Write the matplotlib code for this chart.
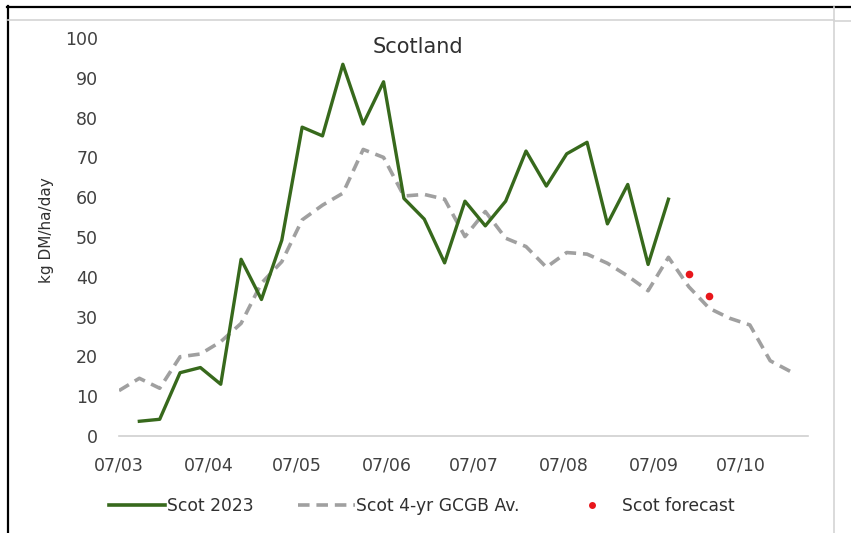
import datetime as dt
import matplotlib
matplotlib.use("Agg")
import matplotlib.pyplot as plt
import matplotlib.dates as mdates
from matplotlib.lines import Line2D

plt.rcParams['font.family'] = ['DejaVu Sans']

# weekly growth, kg DM/ha/day
START = dt.date(2023, 3, 7)
scot_2023 = [3.7, 4.2, 15.9, 17.2, 13.0, 44.4, 34.3, 49.2, 77.6, 75.4, 93.4,
             78.4, 89.0, 59.7, 54.5, 43.5, 59.0, 52.8, 59.0, 71.6, 62.8, 70.9,
             73.8, 53.3, 63.2, 43.1, 59.5]
scot_avg = [11.4, 14.5, 12.0, 19.9, 20.6, 23.7, 28.3, 38.4, 43.8, 54.3, 58.0,
            61.0, 72.0, 70.0, 60.3, 60.7, 59.5, 50.1, 56.4, 49.7, 47.6, 42.4,
            46.1, 45.7, 43.4, 40.2, 36.5, 44.9, 37.5, 32.1, 29.6, 27.9, 18.9,
            16.2]
forecast_weeks = [28, 29]
forecast_vals = [40.7, 35.3]

week = lambda i: START + dt.timedelta(days=7 * i)
dates_2023 = [week(i + 1) for i in range(len(scot_2023))]
dates_avg = [week(i) for i in range(len(scot_avg))]
dates_fc = [week(i) for i in forecast_weeks]
tick_dates = [dt.date(2023, m, 7) for m in range(3, 11)]

W, H = 851, 533
fig = plt.figure(figsize=(W / 100, H / 100), dpi=100)
ax = fig.add_axes([119 / W, 1 - 436 / H, (808 - 119) / W, (436 - 38) / H])

GREEN = '#37691c'
GREY = '#a0a0a0'
RED = '#e8161b'

ax.plot(dates_avg, scot_avg, color=GREY, lw=2.6, dashes=(3.2, 1.9),
        solid_capstyle='butt', label='Scot 4-yr GCGB Av.')
ax.plot(dates_2023, scot_2023, color=GREEN, lw=2.4, label='Scot 2023')
ax.plot(dates_fc, forecast_vals, 'o', color=RED, ms=5.5, mec='none',
        label='Scot forecast')

ax.set_xlim(START, dt.date(2023, 10, 30))
ax.set_ylim(0, 100)
ax.set_yticks(range(0, 101, 10))
ax.set_xticks(tick_dates)
ax.xaxis.set_major_formatter(mdates.DateFormatter('%d/%m'))
ax.tick_params(axis='both', length=0, labelsize=12.5, colors='#404040')
ax.tick_params(axis='y', pad=15)
ax.tick_params(axis='x', pad=15)
for side in ['top', 'right', 'left']:
    ax.spines[side].set_visible(False)
ax.spines['bottom'].set_color('#d0d0d0')
ax.spines['bottom'].set_linewidth(1.2)

fig.text(418 / W, 1 - 47 / H, 'Scotland', ha='center', va='center',
         fontsize=15, color='#303030')
fig.text(46 / W, 1 - 230 / H, 'kg DM/ha/day', rotation=90, ha='center',
         va='center', fontsize=11, color='#303030')

handles = [
    Line2D([], [], color=GREEN, lw=2.6),
    Line2D([], [], color=GREY, lw=2.6, dashes=(3.2, 1.9)),
    Line2D([], [], color=RED, marker='o', ls='none', ms=5, mec='none'),
]
labels = ['Scot 2023', 'Scot 4-yr GCGB Av.', 'Scot forecast']
fig.legend(handles, labels, loc='center', bbox_to_anchor=(422 / W, 1 - 506 / H),
           ncol=3, frameon=False, fontsize=12.3, handlelength=3.3,
           handletextpad=0.1, columnspacing=2.6, labelcolor='#303030')

# sheet border and cell gridlines around the chart
fig.add_artist(Line2D([7 / W, 1], [1 - 6.5 / H] * 2, color='black', lw=1.6))
fig.add_artist(Line2D([7.5 / W] * 2, [0, 1 - 6 / H], color='black', lw=1.6))
fig.add_artist(Line2D([8 / W, 834 / W], [1 - 19.5 / H] * 2, color='#d4d4d4', lw=1.2))
fig.add_artist(Line2D([834 / W, 1], [1 - 20.5 / H] * 2, color='#d4d4d4', lw=1.2))
fig.add_artist(Line2D([834 / W] * 2, [0, 1 - 7 / H], color='#d4d4d4', lw=1.2))

fig.savefig('out.png', dpi=100)
